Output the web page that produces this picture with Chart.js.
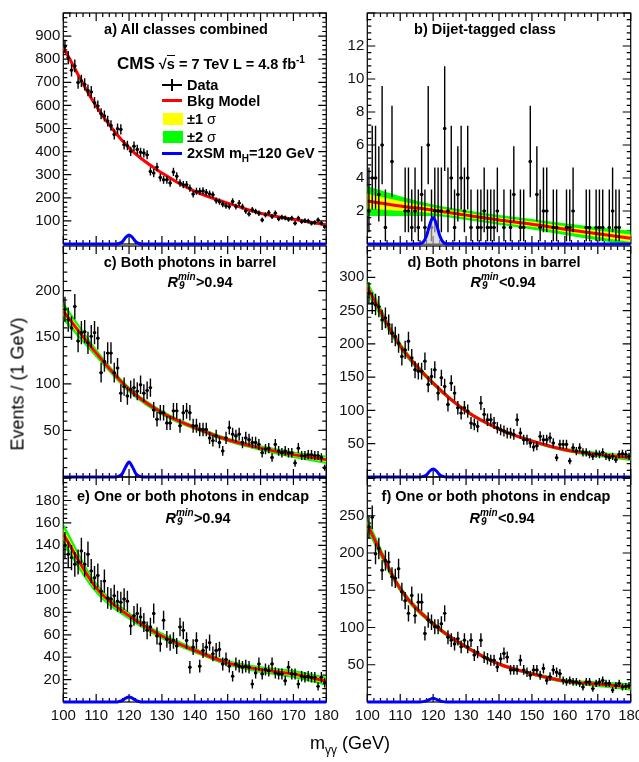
<!DOCTYPE html>
<html lang="en">
  <head>
    <meta charset="UTF-8" />
    <title>Diphoton mass spectra</title>
    <script src="https://cdn.jsdelivr.net/npm/chart.js"></script>
    <style>
      body {
        margin: 0;
        width: 639px;
        height: 762px;
        overflow: hidden;
        background: #fff;
        position: relative;
        font-family: "Liberation Sans", Arial, sans-serif;
      }
      canvas {
        position: absolute;
        left: 0;
      }
      .txt {
        position: absolute;
        font-weight: bold;
        font-size: 14.5px;
        line-height: 16px;
        white-space: nowrap;
        color: #000;
      }
      .mid {
        transform: translateX(-50%);
      }
      .r9 {
        display: inline-block;
        position: relative;
        width: 18px;
        height: 1px;
      }
      .r9 i {
        position: absolute;
        font-size: 10px;
        line-height: 10px;
      }
      .mark {
        position: absolute;
      }
    </style>
  </head>
  <body>
    <div id="stage"></div>

    <div class="txt mid" style="left: 186px; top: 21px">a) All classes combined</div>
    <div class="txt" style="left: 117px; top: 50px; line-height: 20px">
      <span style="font-size: 17px">CMS</span> √<span style="border-top: 1.5px solid #000">s</span> = 7 TeV L = 4.8 fb<sup style="font-size: 10px">-1</sup>
    </div>
    <div class="mark" style="left: 162px; top: 84px; width: 20px; height: 1.5px; background: #000"></div>
    <div class="mark" style="left: 171px; top: 79px; width: 1.5px; height: 12px; background: #000"></div>
    <div class="txt" style="left: 187px; top: 77px">Data</div>
    <div class="mark" style="left: 162px; top: 99px; width: 20px; height: 3px; background: #ff0000"></div>
    <div class="txt" style="left: 187px; top: 93px">Bkg Model</div>
    <div class="mark" style="left: 163px; top: 113px; width: 20px; height: 12px; background: #ffff00"></div>
    <div class="txt" style="left: 187px; top: 111px">±1 <span style="font-weight: normal">σ</span></div>
    <div class="mark" style="left: 163px; top: 131px; width: 20px; height: 12px; background: #00ff00"></div>
    <div class="txt" style="left: 187px; top: 129px">±2 <span style="font-weight: normal">σ</span></div>
    <div class="mark" style="left: 162px; top: 152px; width: 20px; height: 3px; background: #0000ff"></div>
    <div class="txt" style="left: 187px; top: 145px">2xSM m<sub style="font-size: 10px">H</sub>=120 GeV</div>

    <div class="txt mid" style="left: 485px; top: 21px">b) Dijet-tagged class</div>

    <div class="txt mid" style="left: 190px; top: 254px">c) Both photons in barrel</div>
    <div class="txt mid" style="left: 200px; top: 274px"><i>R</i><span class="r9"><i style="left: 0; top: -14px">min</i><i style="left: 1px; top: -5px">9</i></span>&gt;0.94</div>
    <div class="txt mid" style="left: 494px; top: 254px">d) Both photons in barrel</div>
    <div class="txt mid" style="left: 503px; top: 274px"><i>R</i><span class="r9"><i style="left: 0; top: -14px">min</i><i style="left: 1px; top: -5px">9</i></span>&lt;0.94</div>
    <div class="txt mid" style="left: 193px; top: 488px">e) One or both photons in endcap</div>
    <div class="txt mid" style="left: 198px; top: 510px"><i>R</i><span class="r9"><i style="left: 0; top: -14px">min</i><i style="left: 1px; top: -5px">9</i></span>&gt;0.94</div>
    <div class="txt mid" style="left: 496px; top: 488px">f) One or both photons in endcap</div>
    <div class="txt mid" style="left: 502px; top: 510px"><i>R</i><span class="r9"><i style="left: 0; top: -14px">min</i><i style="left: 1px; top: -5px">9</i></span>&lt;0.94</div>

    <div style="position: absolute; left: 18px; top: 384px; transform: translate(-50%, -50%) rotate(-90deg); font-size: 18px; white-space: nowrap">Events / (1 GeV)</div>
    <div style="position: absolute; left: 310px; top: 733px; font-size: 18px; line-height: 20px; white-space: nowrap">m<sub style="font-size: 12px">γγ</sub> (GeV)</div>

    <script>
      // 1 GeV bins from 100 to 180
      const binCenters = Array.from({ length: 80 }, (_, i) => 100.5 + i);
      const massTicks = [100, 110, 120, 130, 140, 150, 160, 170, 180];

      const eventsA = [855, 807, 752, 771, 699, 706, 691, 665, 658, 612,
        597, 564, 554, 532, 513, 474, 499, 496, 430, 426,
        401, 423, 409, 397, 394, 386, 314, 307, 333, 288,
        278, 278, 264, 312, 293, 264, 257, 257, 242, 216,
        228, 228, 230, 223, 217, 213, 188, 183, 172, 165,
        162, 184, 162, 177, 162, 143, 130, 148, 141, 133,
        104, 126, 136, 119, 133, 109, 116, 113, 107, 112,
        90, 112, 97, 101, 99, 90, 93, 104, 90, 75];
      const eventsB = [2, 4, 4, 3, 6, 1, 0, 5, 0, 0,
        0, 2, 2, 1, 2, 1, 3, 1, 6, 1,
        2, 2, 2, 7, 2, 4, 1, 3, 4, 2,
        4, 1, 0, 1, 1, 2, 1, 1, 1, 2,
        0, 1, 0, 1, 3, 0, 1, 1, 0, 5,
        0, 3, 1, 2, 2, 0, 1, 1, 0, 0,
        1, 1, 2, 0, 0, 0, 1, 1, 0, 1,
        1, 1, 0, 1, 2, 1, 1, 0, 0, 0];
      const eventsC = [180, 169, 160, 183, 146, 155, 156, 144, 151, 155,
        149, 112, 124, 133, 133, 112, 117, 90, 97, 87,
        94, 96, 92, 99, 90, 93, 96, 72, 62, 69,
        69, 58, 58, 71, 71, 55, 69, 71, 69, 55,
        55, 51, 51, 51, 42, 39, 44, 37, 28, 42,
        53, 46, 44, 46, 37, 42, 40, 37, 37, 35,
        26, 30, 31, 21, 35, 28, 26, 28, 26, 26,
        15, 31, 23, 23, 24, 24, 23, 23, 21, 10];
      const eventsD = [276, 261, 259, 256, 236, 239, 229, 216, 211, 201,
        181, 191, 204, 179, 161, 159, 159, 174, 139, 151,
        161, 126, 149, 136, 109, 141, 126, 104, 96, 104,
        99, 81, 79, 76, 111, 94, 86, 86, 81, 74,
        71, 69, 66, 66, 64, 86, 66, 56, 56, 51,
        45, 47, 61, 56, 56, 59, 51, 29, 49, 49,
        49, 24, 44, 39, 44, 37, 37, 34, 31, 35,
        34, 37, 31, 29, 31, 26, 34, 35, 34, 31];
      const eventsE = [140, 132, 129, 123, 125, 135, 123, 132, 117, 111,
        113, 99, 108, 93, 92, 95, 90, 89, 92, 90,
        68, 77, 79, 76, 71, 64, 67, 79, 59, 52,
        73, 56, 53, 55, 50, 67, 64, 55, 31, 49,
        55, 32, 46, 49, 53, 43, 46, 47, 34, 38,
        32, 23, 34, 32, 31, 32, 31, 16, 26, 34,
        25, 29, 28, 34, 26, 25, 25, 19, 31, 25,
        25, 16, 23, 22, 23, 22, 22, 14, 22, 17];
      const eventsF = [235, 248, 199, 206, 177, 190, 188, 168, 166, 179,
        148, 136, 119, 143, 116, 134, 134, 92, 110, 107,
        101, 101, 105, 119, 87, 83, 78, 85, 74, 83,
        74, 83, 63, 67, 83, 60, 58, 56, 56, 47,
        58, 65, 60, 43, 43, 43, 56, 43, 40, 36,
        43, 43, 36, 45, 29, 34, 43, 40, 38, 29,
        27, 29, 27, 27, 25, 20, 27, 27, 18, 25,
        27, 29, 25, 25, 16, 22, 25, 20, 21, 22];

      // background model and its 1 / 2 sigma half widths, every 10 GeV
      const curveMass = [100, 110, 120, 130, 140, 150, 160, 170, 180];
      const bkgA = [852, 597, 416, 307, 228, 177, 133, 107, 83];
      const sig1A = [5, 3, 2, 1.5, 1.5, 1.5, 1.5, 1.5, 2];
      const sig2A = [10, 6, 4, 3, 3, 3, 3, 3, 4];
      const bkgB = [2.6, 2.3, 2.05, 1.75, 1.46, 1.2, 0.9, 0.62, 0.35];
      const sig1B = [0.45, 0.3, 0.18, 0.15, 0.15, 0.16, 0.18, 0.2, 0.23];
      const sig2B = [0.9, 0.6, 0.35, 0.3, 0.3, 0.32, 0.36, 0.4, 0.46];
      const bkgC = [178, 133, 94, 69, 53, 40, 31, 24, 18.5];
      const sig1C = [5, 2.5, 1.8, 1.5, 1.3, 1.3, 1.5, 1.8, 2.3];
      const sig2C = [10, 5, 3.5, 3, 2.5, 2.5, 3, 3.5, 4.5];
      const bkgD = [285, 197, 141, 99, 72, 54, 41, 34, 29];
      const sig1D = [5.5, 3, 2, 1.5, 1.3, 1.3, 1.5, 2, 2.5];
      const sig2D = [11, 6, 4, 3, 2.5, 2.5, 3, 4, 5];
      const bkgE = [150, 102, 77, 59, 46, 35, 29, 25, 18.5];
      const sig1E = [5, 2.5, 1.8, 1.5, 1.3, 1.3, 1.5, 1.8, 2];
      const sig2E = [10, 5, 3.5, 3, 2.5, 2.5, 3, 3.5, 4];
      const bkgF = [238, 152, 105, 74, 51, 38, 28, 24, 20];
      const sig1F = [4.5, 2.5, 1.8, 1.5, 1.3, 1.3, 1.5, 2, 2.5];
      const sig2F = [9, 5, 3.5, 3, 2.5, 2.5, 3, 4, 5];

      // 2xSM signal, mH = 120 GeV
      const signalMass = [100, 116, 117, 118, 119, 120, 121, 122, 123, 124, 180];
      const signalA = [0, 0, 2, 10, 29, 39, 29, 10, 2, 0, 0];
      const signalB = [0, 0.02, 0.12, 0.5, 1.2, 1.6, 1.2, 0.5, 0.12, 0.02, 0];
      const signalC = [0, 0, 1, 4, 11, 16, 11, 4, 1, 0, 0];
      const signalD = [0, 0, 1, 3, 9, 12, 9, 3, 1, 0, 0];
      const signalE = [0, 0, 0.5, 1.5, 3.5, 4.5, 3.5, 1.5, 0.5, 0, 0];
      const signalF = [0, 0, 0.5, 1.5, 3.5, 5, 3.5, 1.5, 0.5, 0, 0];

      // 68% Poisson intervals for small counts (index = count)
      const poissonLow = [0, 0.17, 0.71, 1.37, 2.09, 2.84, 3.62, 4.42];
      const poissonHigh = [0, 3.3, 4.64, 5.92, 7.16, 8.38, 9.58, 10.77];

      const yTicksA = [100, 200, 300, 400, 500, 600, 700, 800, 900];
      const yTicksB = [2, 4, 6, 8, 10, 12];
      const yTicksC = [50, 100, 150, 200];
      const yTicksD = [50, 100, 150, 200, 250, 300];
      const yTicksE = [20, 40, 60, 80, 100, 120, 140, 160, 180];
      const yTicksF = [50, 100, 150, 200, 250];

      const FONT = '"Liberation Sans", Arial, sans-serif';
      const CW = 660, CH = 802, OFF = 40, Y_W = 40, X_H = 30;
      const LEFT_COL = [63.3, 326.3], RIGHT_COL = [367.3, 630.7];

      const panels = [
        { events: eventsA, bkg: bkgA, s1: sig1A, s2: sig2A, signal: signalA, yMax: 1000, yTicks: yTicksA, major: 100, minor: 20, col: LEFT_COL, top: 13, bottom: 244 },
        { events: eventsB, bkg: bkgB, s1: sig1B, s2: sig2B, signal: signalB, yMax: 14, yTicks: yTicksB, major: 2, minor: 0.4, col: RIGHT_COL, top: 13, bottom: 244, poisson: true, signalFill: true },
        { events: eventsC, bkg: bkgC, s1: sig1C, s2: sig2C, signal: signalC, yMax: 248, yTicks: yTicksC, major: 50, minor: 10, col: LEFT_COL, top: 246, bottom: 477 },
        { events: eventsD, bkg: bkgD, s1: sig1D, s2: sig2D, signal: signalD, yMax: 347, yTicks: yTicksD, major: 50, minor: 10, col: RIGHT_COL, top: 246, bottom: 477 },
        { events: eventsE, bkg: bkgE, s1: sig1E, s2: sig2E, signal: signalE, yMax: 201, yTicks: yTicksE, major: 20, minor: 4, col: LEFT_COL, top: 477, bottom: 702, xLabels: true },
        { events: eventsF, bkg: bkgF, s1: sig1F, s2: sig2F, signal: signalF, yMax: 302, yTicks: yTicksF, major: 50, minor: 10, col: RIGHT_COL, top: 477, bottom: 702, xLabels: true },
      ];

      // ROOT-like frame with inward ticks on all four sides
      const framePlugin = {
        id: "frame",
        beforeDatasetsDraw(chart, args, opts) {
          const { ctx, chartArea: a } = chart;
          const x = chart.scales.x, y = chart.scales.y;
          ctx.save();
          ctx.strokeStyle = "#000";
          ctx.lineWidth = 1.2;
          ctx.strokeRect(a.left, a.top, a.right - a.left, a.bottom - a.top);
          ctx.beginPath();
          for (let v = 100; v <= 180; v += 2) {
            const px = x.getPixelForValue(v);
            const len = v % 10 === 0 ? 8 : 4;
            ctx.moveTo(px, a.bottom); ctx.lineTo(px, a.bottom - len);
            ctx.moveTo(px, a.top); ctx.lineTo(px, a.top + len);
          }
          const n = Math.floor(y.max / opts.minor + 1e-6);
          for (let k = 1; k <= n; k++) {
            const v = k * opts.minor;
            const py = y.getPixelForValue(v);
            const r = v / opts.major;
            const len = Math.abs(r - Math.round(r)) < 1e-6 ? 8 : 4;
            ctx.moveTo(a.left, py); ctx.lineTo(a.left + len, py);
            ctx.moveTo(a.right, py); ctx.lineTo(a.right - len, py);
          }
          ctx.stroke();
          ctx.restore();
        },
      };

      const errorBarPlugin = {
        id: "errorBars",
        afterDatasetDraw(chart, args) {
          const ds = chart.data.datasets[args.index];
          if (!ds.errLow) return;
          const { ctx, chartArea: a } = chart;
          const x = chart.scales.x, y = chart.scales.y;
          ctx.save();
          ctx.beginPath();
          ctx.rect(a.left, a.top, a.right - a.left, a.bottom - a.top);
          ctx.clip();
          ctx.strokeStyle = "#000";
          ctx.lineWidth = 1.4;
          ctx.beginPath();
          ds.data.forEach((d, i) => {
            const px = x.getPixelForValue(d.x);
            const py = y.getPixelForValue(d.y);
            ctx.moveTo(px, y.getPixelForValue(d.y - ds.errLow[i]));
            ctx.lineTo(px, y.getPixelForValue(d.y + ds.errHigh[i]));
            ctx.moveTo(x.getPixelForValue(d.x - 0.5), py);
            ctx.lineTo(x.getPixelForValue(d.x + 0.5), py);
          });
          ctx.stroke();
          ctx.restore();
        },
      };

      function buildPanel(p) {
        const canvas = document.createElement("canvas");
        canvas.width = CW;
        canvas.height = CH;
        canvas.style.top = -OFF + "px";
        document.getElementById("stage").appendChild(canvas);

        const band = (k, arr) => curveMass.map((m, i) => ({ x: m, y: p.bkg[i] + k * arr[i] }));
        const counts = binCenters.map((m, i) => ({ x: m, y: p.events[i] })).filter((d) => d.y > 0);
        const errLow = counts.map((d) => (p.poisson ? d.y - poissonLow[d.y] : Math.sqrt(d.y)));
        const errHigh = counts.map((d) => (p.poisson ? poissonHigh[d.y] - d.y : Math.sqrt(d.y)));
        const smooth = { type: "line", pointRadius: 0, borderWidth: 0, cubicInterpolationMode: "monotone" };
        const tickFont = { family: FONT, size: 15 };

        new Chart(canvas, {
          type: "line",
          data: {
            datasets: [
              { ...smooth, data: band(1, p.s2), fill: "+1", backgroundColor: "#00ff00", order: 6 },
              { ...smooth, data: band(-1, p.s2), fill: false, order: 6 },
              { ...smooth, data: band(1, p.s1), fill: "+1", backgroundColor: "#ffff00", order: 5 },
              { ...smooth, data: band(-1, p.s1), fill: false, order: 5 },
              { ...smooth, data: band(0, p.s1), borderWidth: 3, borderColor: "#ff0000", fill: false, order: 4 },
              { type: "scatter", data: counts, errLow, errHigh, pointRadius: 1.7, pointBackgroundColor: "#000", pointBorderWidth: 0, order: 2 },
              {
                type: "line",
                data: signalMass.map((m, i) => ({ x: m, y: p.signal[i] })),
                borderColor: "#0000ff",
                borderWidth: 3,
                pointRadius: 0,
                cubicInterpolationMode: "monotone",
                fill: p.signalFill ? "origin" : false,
                backgroundColor: "rgba(200,200,200,0.6)",
                clip: 4,
                order: 1,
              },
            ],
          },
          options: {
            responsive: false,
            animation: false,
            events: [],
            layout: {
              padding: {
                left: p.col[0] - Y_W,
                right: CW - p.col[1],
                top: p.top + OFF,
                bottom: CH - (p.bottom + OFF) - X_H,
              },
            },
            plugins: {
              legend: { display: false },
              tooltip: { enabled: false },
              frame: { major: p.major, minor: p.minor },
            },
            scales: {
              x: {
                type: "linear",
                min: 100,
                max: 180,
                afterBuildTicks: (s) => { s.ticks = massTicks.map((v) => ({ value: v })); },
                afterFit: (s) => { s.height = X_H; },
                grid: { display: false, drawTicks: false },
                border: { display: false },
                ticks: { display: !!p.xLabels, autoSkip: false, maxRotation: 0, padding: 5, color: "#111", font: tickFont },
              },
              y: {
                type: "linear",
                min: 0,
                max: p.yMax,
                afterBuildTicks: (s) => { s.ticks = p.yTicks.map((v) => ({ value: v })); },
                afterFit: (s) => { s.width = Y_W; },
                grid: { display: false, drawTicks: false },
                border: { display: false },
                ticks: { padding: 3, color: "#111", font: tickFont },
              },
            },
          },
          plugins: [framePlugin, errorBarPlugin],
        });
      }

      panels.forEach(buildPanel);
    </script>
  </body>
</html>
